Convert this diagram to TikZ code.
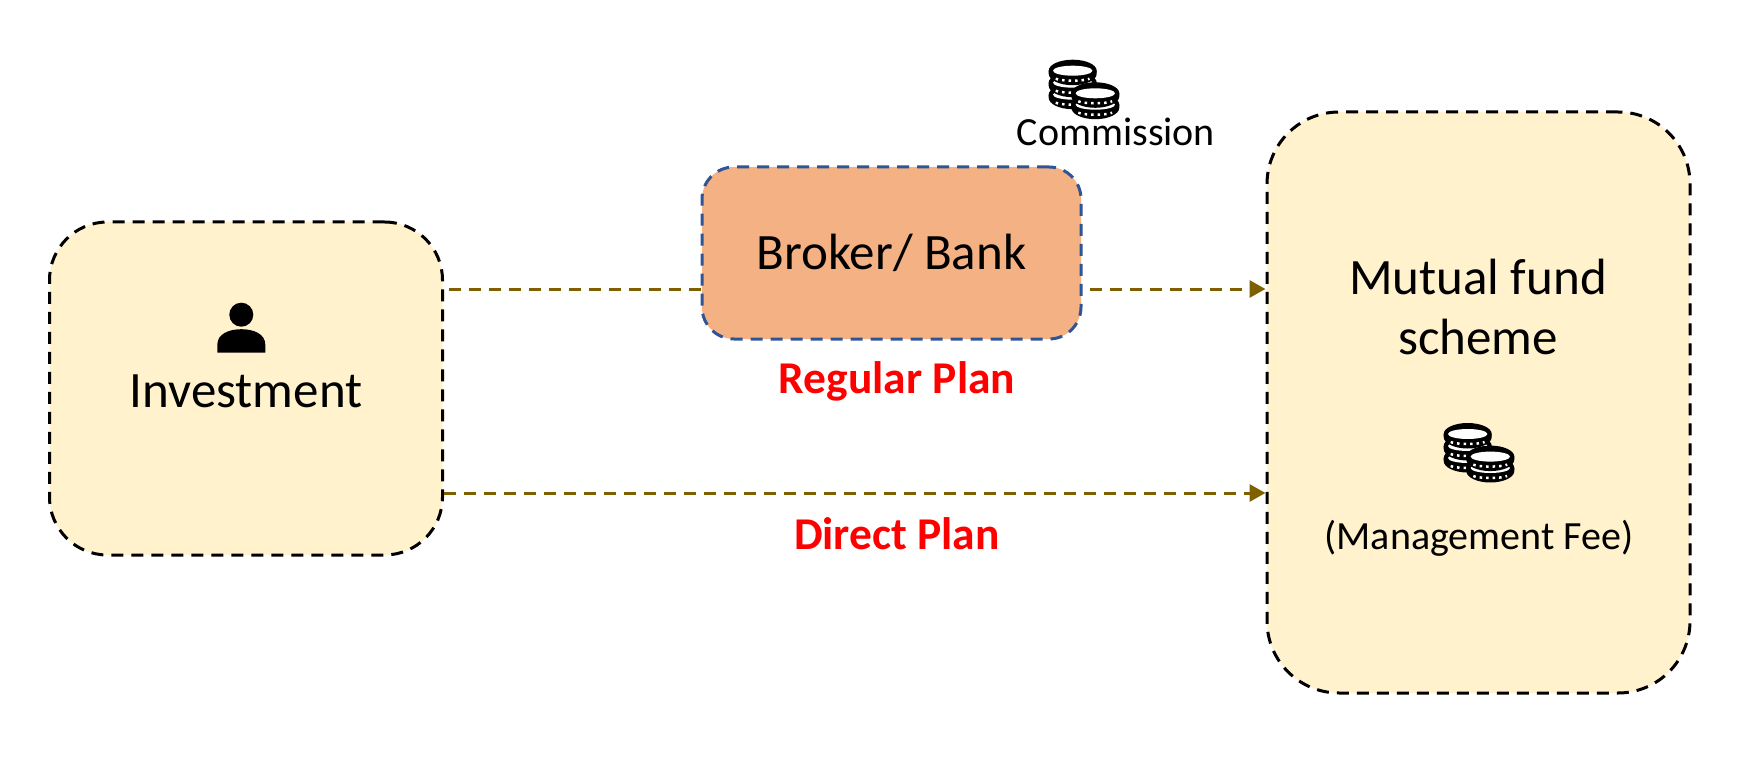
\documentclass[tikz,border=0pt]{standalone}
\usepackage{fontspec}
\setmainfont{Carlito}
\usetikzlibrary{arrows.meta}
\definecolor{cream}{HTML}{FFF2CC}
\definecolor{peach}{HTML}{F4B183}
\definecolor{brokerblue}{HTML}{2F5597}
\definecolor{flowbrown}{HTML}{7F6000}
\tikzset{
    holder/.style={draw=black, fill=cream, line width=3pt, dash pattern=on 12pt off 8pt},
    agent/.style={draw=brokerblue, fill=peach, line width=3pt, dash pattern=on 12pt off 8pt},
    flow/.style={draw=flowbrown, line width=3pt, dash pattern=on 12pt off 8pt, -{Triangle[length=16pt,width=17pt]}},
    bigtext/.style={font=\fontsize{51}{60}\selectfont, align=center},
    plantext/.style={text=red, font=\fontsize{45.5}{54}\selectfont\bfseries},
    smalltext/.style={font=\fontsize{40}{48}\selectfont},
    coins/.pic={
        % back stack first, then the front one
        \foreach \cx/\cy in {0/24, 0/12, 0/0, 22.6/34, 22.6/22.6} {
            \fill[black] (\cx-24,\cy) -- (\cx-24,\cy+3) arc[start angle=180, end angle=0, x radius=24, y radius=11.5] -- (\cx+24,\cy) -- cycle;
            \fill[black] (\cx,\cy) ellipse[x radius=24, y radius=11];
            \fill[white] (\cx,\cy) ellipse[x radius=19.7, y radius=5];
            \draw[white, line width=2.5pt, dash pattern=on 2.5pt off 4pt] (\cx-17,\cy+8) arc[start angle=160, end angle=20, x radius=18, y radius=3];
        }
    },
    person/.pic={
        \fill[black] (0,0) circle[radius=12];
        \fill[black] (-24,38) -- (-24,30) .. controls (-24,19) and (-12,14.5) .. (0,14.5) .. controls (12,14.5) and (24,19) .. (24,30) -- (24,38) -- cycle;
    }
}
\begin{document}
\begin{tikzpicture}[x=1pt, y=-1pt]
    \useasboundingbox (0,0) rectangle (1750,759);

    \node[holder, minimum width=393pt, minimum height=333pt, rounded corners=58pt] (investment) at (246,388.5) {};
    \node[agent, minimum width=379pt, minimum height=172pt, rounded corners=32pt, bigtext] (broker) at (891.5,253) {Broker/ Bank};
    \node[holder, minimum width=423pt, minimum height=581pt, rounded corners=72pt] (scheme) at (1478.5,402.5) {};

    \pic at (241.3,314.7) {person};
    \node[bigtext] (investlabel) at (246,391) {Investment};
    \node[bigtext] (schemelabel) at (1478,307) {Mutual fund\\scheme};
    \node[smalltext] (feelabel) at (1479,538) {(Management Fee)};
    \node[smalltext] (commission) at (1116,132) {Commission};
    \node[plantext] (regular) at (897,381) {Regular Plan};
    \node[plantext] (direct) at (897,534) {Direct Plan};

    \pic at (1072.7,70.7) {coins};
    \pic at (1467.7,434) {coins};

    \draw[flow, -] ([xshift=5pt,yshift=99.5pt]investment.east) -- ([yshift=-36pt]broker.west);
    \draw[flow] ([xshift=7pt,yshift=-36pt]broker.east) -- ([yshift=113.5pt]scheme.west);
    \draw[flow] ([yshift=-104.5pt]investment.east) -- ([yshift=-90.5pt]scheme.west);
\end{tikzpicture}
\end{document}
